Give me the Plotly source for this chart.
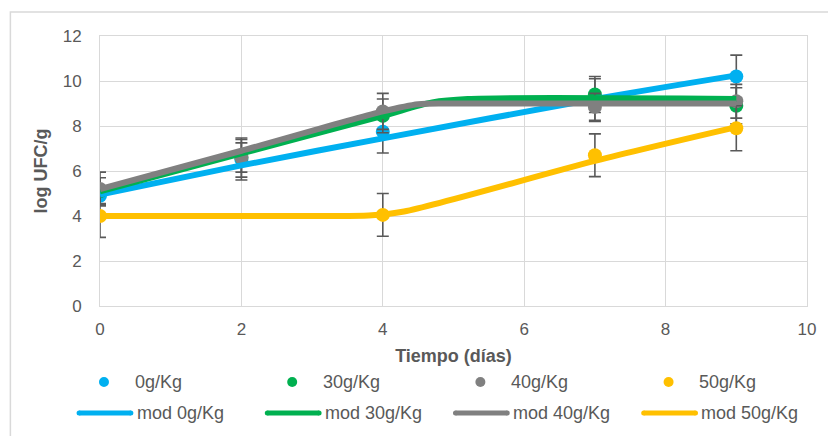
import plotly.graph_objects as go

# Observed counts (log UFC/g) per storage day and concentration
dias = [0, 2, 4, 7, 9]
dias_50 = [0, 4, 7, 9]

obs_0 = [4.9, 6.5, 7.75, 9.15, 10.2]
err_0 = [0.35, 0.9, 0.95, 0.95, 0.95]
obs_30 = [5.1, 6.6, 8.45, 9.4, 8.9]
err_30 = [0.6, 0.65, 0.75, 0.8, 0.8]
obs_40 = [5.2, 6.6, 8.65, 8.85, 9.1]
err_40 = [0.75, 0.87, 0.8, 0.6, 0.75]
obs_50 = [4.0, 4.05, 6.7, 7.9]
err_50 = [0.95, 0.95, 0.95, 1.0]

# Fitted growth models (knots of the smoothed curves)
mod0_x = [0, 2, 4, 7, 9]
mod0_y = [4.95, 6.25, 7.45, 9.2, 10.25]
mod30_x = [0, 2, 4, 4.7, 5.2, 9]
mod30_y = [5.1, 6.78, 8.45, 9.05, 9.2, 9.2]
mod40_x = [0, 2, 4, 4.5, 5, 9]
mod40_y = [5.2, 6.9, 8.65, 8.97, 9.0, 9.0]
mod50_x = [0, 3.0, 3.8, 4.3, 7, 9]
mod50_y = [4.0, 4.0, 4.02, 4.2, 6.45, 7.95]

names = ["0g/Kg", "30g/Kg", "40g/Kg", "50g/Kg"]
colors = ["#00B0F0", "#00B050", "#808080", "#FFC000"]

FONT = "Liberation Sans, Arial, sans-serif"
TXT = "#595959"
GRID = "#D9D9D9"

W, H = 828, 436
ML, MR, MT, MB = 100, 18, 36, 130
PW, PH = W - ML - MR, H - MT - MB


def px_x(px):
    """Pixel column -> paper x."""
    return (px - ML) / PW


def px_y(py):
    """Pixel row (from top) -> paper y."""
    return (H - MB - py) / PH


fig = go.Figure()

obs = [(dias, obs_0, err_0), (dias, obs_30, err_30), (dias, obs_40, err_40), (dias_50, obs_50, err_50)]
for (xs, ys, es), name, col in zip(obs, names, colors):
    fig.add_trace(go.Scatter(
        x=xs, y=ys, mode="markers", name=name, showlegend=False,
        marker=dict(color=col, size=14),
        error_y=dict(type="data", array=es, color=TXT, thickness=1.6, width=6),
    ))

mods = [(mod0_x, mod0_y), (mod30_x, mod30_y), (mod40_x, mod40_y), (mod50_x, mod50_y)]
for (xs, ys), name, col in zip(mods, names, colors):
    fig.add_trace(go.Scatter(
        x=xs, y=ys, mode="lines", name="mod " + name, showlegend=False,
        line=dict(color=col, width=6, shape="spline", smoothing=0.8),
    ))

axis_common = dict(
    showgrid=True, gridcolor=GRID, gridwidth=1,
    showline=True, linecolor=GRID, linewidth=1, mirror=True,
    zeroline=False, ticks="",
    tickfont=dict(family=FONT, size=17, color=TXT),
)

# Chart-area frame
shapes = [dict(type="rect", xref="paper", yref="paper",
               x0=px_x(10), x1=px_x(840), y0=px_y(450), y1=px_y(12),
               line=dict(color=GRID, width=1.5), layer="below")]
annotations = []

# Two-row legend below the axis: observed points, then fitted models
COL_STEP = 189
ROW1_Y, ROW2_Y = 382, 413
for i, (name, col) in enumerate(zip(names, colors)):
    x0 = 104 + COL_STEP * i
    shapes.append(dict(type="circle", xref="paper", yref="paper",
                       xsizemode="pixel", ysizemode="pixel",
                       xanchor=px_x(x0), yanchor=px_y(ROW1_Y),
                       x0=-5, x1=5, y0=-5, y1=5,
                       fillcolor=col, line=dict(width=0)))
    annotations.append(dict(xref="paper", yref="paper", x=px_x(x0 + 29), y=px_y(ROW1_Y),
                            text=name, showarrow=False, xanchor="left", yanchor="middle",
                            font=dict(family=FONT, size=18, color=TXT)))
    shapes.append(dict(type="line", xref="paper", yref="paper",
                       x0=px_x(x0 - 25), x1=px_x(x0 + 27), y0=px_y(ROW2_Y), y1=px_y(ROW2_Y),
                       line=dict(color=col, width=5)))
    for cx in (x0 - 25, x0 + 27):
        shapes.append(dict(type="circle", xref="paper", yref="paper",
                           xsizemode="pixel", ysizemode="pixel",
                           xanchor=px_x(cx), yanchor=px_y(ROW2_Y),
                           x0=-2.5, x1=2.5, y0=-2.5, y1=2.5,
                           fillcolor=col, line=dict(width=0)))
    annotations.append(dict(xref="paper", yref="paper", x=px_x(x0 + 31), y=px_y(ROW2_Y),
                            text="mod " + name, showarrow=False, xanchor="left", yanchor="middle",
                            font=dict(family=FONT, size=18, color=TXT)))

fig.update_layout(
    width=W, height=H,
    margin=dict(l=ML, r=MR, t=MT, b=MB),
    paper_bgcolor="white", plot_bgcolor="white",
    font=dict(family=FONT, color=TXT),
    showlegend=False,
    xaxis=dict(range=[0, 10], dtick=2, ticklabelstandoff=8,
               title=dict(text="<b>Tiempo (días)</b>", standoff=10,
                          font=dict(family=FONT, size=18, color=TXT)),
               **axis_common),
    yaxis=dict(range=[0, 12], dtick=2, ticklabelstandoff=14,
               title=dict(text="<b>log UFC/g</b>", standoff=10,
                          font=dict(family=FONT, size=18, color=TXT)),
               **axis_common),
    shapes=shapes,
    annotations=annotations,
)

fig.write_html("out.html")
